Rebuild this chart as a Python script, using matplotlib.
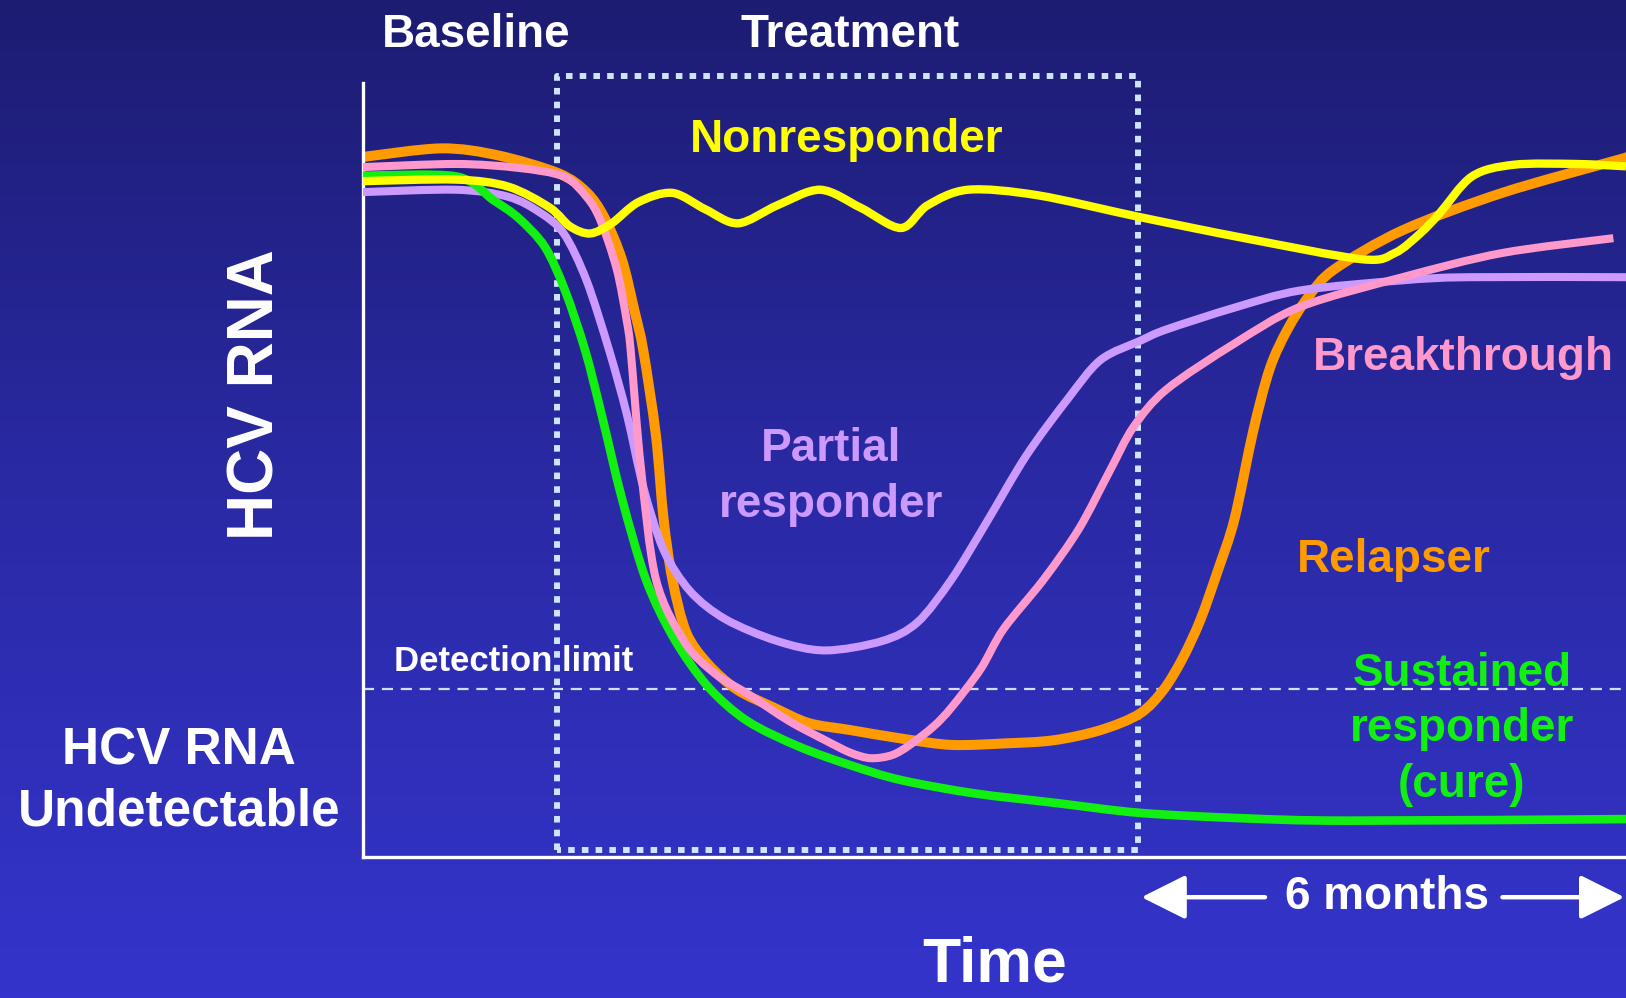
import numpy as np
import matplotlib.pyplot as plt
from matplotlib.colors import LinearSegmentedColormap
from matplotlib.path import Path
from matplotlib.patches import PathPatch, FancyArrowPatch

plt.rcParams['font.family'] = ['Liberation Sans', 'DejaVu Sans']
plt.rcParams['font.weight'] = 'bold'

# curves: time (0-100) and HCV RNA level (0-100)
yellow_t = [0, 7.4, 11.5, 14.8, 16.4, 18.0, 19.7, 21.8, 24.5, 27.1, 29.7, 32.8, 36.2, 39.4, 42.6, 44.7,
            47.9, 53.4, 61.5, 69.8, 79.1, 81.7, 83.7, 85.2, 87.8, 91.1, 96.1, 100]
yellow_v = [86.5, 86.7, 85.8, 83.1, 80.7, 79.8, 81.1, 83.8, 85.0, 82.9, 81.1, 83.4, 85.4, 83.1, 80.5, 83.4,
            85.4, 84.7, 81.9, 79.2, 76.5, 77.3, 79.8, 82.3, 87.1, 88.6, 88.7, 88.4]

orange_t = [0, 6.2, 10.7, 15.5, 17.7, 19.1, 20.5, 21.5, 22.2, 23.2, 23.8, 24.5, 25.6, 27.3, 29.6, 32.5,
            35.3, 38.6, 42.7, 46.6, 50.9, 54.7, 58.4, 61.5, 63.4, 64.9, 66.3, 67.7, 69.0, 70.5, 71.8,
            73.2, 74.9, 76.9, 82.3, 90.2, 99.3, 100]
orange_v = [89.6, 90.7, 89.8, 87.5, 85.1, 81.9, 76.5, 69.9, 64.8, 53.9, 43.3, 35.5, 28.7, 24.7, 21.4, 19.1,
            17.1, 16.2, 15.1, 14.3, 14.5, 14.9, 16.2, 18.3, 21.4, 25.4, 30.3, 36.7, 43.2, 54.6, 62.5,
            67.5, 71.8, 75.2, 80.2, 85.0, 89.2, 89.5]

pink_t = [0, 7.4, 12.3, 15.9, 17.7, 18.8, 20.1, 20.9, 21.2, 22.0, 23.2, 25.5, 27.9, 30.5, 33.7, 36.6,
          38.6, 40.2, 41.9, 43.3, 45.2, 46.6, 48.9, 50.7, 53.9, 56.7, 59.1, 61.0, 63.6, 69.0, 74.2,
          82.3, 90.2, 99.0]
pink_v = [88.3, 88.7, 88.2, 87.1, 84.5, 81.5, 75.2, 68.5, 64.8, 49.9, 35.5, 27.4, 23.4, 20.8, 17.4, 14.9,
          13.3, 12.6, 13.0, 14.3, 16.7, 19.1, 24.0, 29.1, 35.5, 42.0, 49.3, 55.0, 59.8, 65.7, 70.4,
          74.2, 77.3, 79.2]

lavender_t = [0, 7.4, 11.5, 14.0, 15.9, 17.7, 19.5, 20.9, 22.2, 23.8, 25.9, 28.7, 32.8, 36.6, 41.1, 43.9,
              46.6, 49.3, 52.5, 55.8, 58.4, 61.6, 63.6, 69.0, 74.2, 82.3, 87.5, 100]
lavender_v = [85.1, 85.4, 84.5, 82.5, 79.8, 73.8, 64.8, 56.6, 47.3, 39.3, 34.0, 30.4, 27.6, 26.4, 27.6, 30.0,
              35.5, 42.6, 51.3, 58.6, 63.6, 66.1, 67.5, 70.3, 72.5, 73.8, 74.2, 74.2]

green_t = [0, 7.4, 10.3, 12.3, 14.4, 16.0, 17.6, 18.9, 20.5, 22.4, 24.6, 27.3, 30.4, 34.5, 38.6, 42.6,
           48.4, 54.7, 61.5, 69.8, 78.0, 100]
green_v = [87.2, 87.1, 84.1, 81.8, 78.1, 72.5, 64.8, 56.6, 45.9, 35.5, 28.0, 21.8, 17.4, 14.1, 11.7, 9.8,
           8.1, 6.9, 5.6, 4.9, 4.6, 4.8]

detection_limit = 21.5
treatment_start, treatment_end = 15.35, 61.4


def smooth_path(t, v):
    # bezier path through the read points (catmull-rom style handles)
    p = np.column_stack([t, v]).astype(float)
    verts = [p[0]]
    codes = [Path.MOVETO]
    for i in range(len(p) - 1):
        p0 = p[i - 1] if i > 0 else p[i]
        p3 = p[i + 2] if i + 2 < len(p) else p[i + 1]
        c1 = p[i] + (p[i + 1] - p0) / 6.5
        c2 = p[i + 1] - (p3 - p[i]) / 6.5
        verts += [c1, c2, p[i + 1]]
        codes += [Path.CURVE4] * 3
    return Path(verts, codes)


fig = plt.figure(figsize=(16.26, 9.98), dpi=100)

# background gradient
bg = fig.add_axes([0, 0, 1, 1], zorder=-10)
grad = np.linspace(0, 1, 256).reshape(-1, 1)
cmap_bg = LinearSegmentedColormap.from_list('bg', ['#1d1c72', '#2a2aa6', '#3434cc'])
bg.imshow(grad, aspect='auto', cmap=cmap_bg, extent=[0, 1, 0, 1], origin='upper')
bg.axis('off')

ax = fig.add_axes([0.2232, 0.1417, 0.7768, 0.7824])
ax.patch.set_alpha(0)
ax.set_xlim(0, 100)
ax.set_ylim(0, 100)
ax.set_xticks([])
ax.set_yticks([])
for s in ['top', 'right']:
    ax.spines[s].set_visible(False)
for s in ['left', 'bottom']:
    ax.spines[s].set_color('white')
    ax.spines[s].set_linewidth(2.4)
ax.spines['left'].set_bounds(0, 99.1)

# treatment box (dotted)
box_x = [treatment_start, treatment_start, treatment_end, treatment_end, treatment_start]
box_y = [0.8, 100, 100, 0.8, 0.8]
ax.plot(box_x, box_y, color='#cde4fb', lw=4.3, linestyle=(0, (1.1, 1.2)), solid_capstyle='butt',
        dash_capstyle='butt', clip_on=False, zorder=1)

# detection limit
ax.plot([0, 100], [detection_limit, detection_limit], color='#d5dcf5', lw=1.6,
        linestyle=(0, (5, 3.5)), clip_on=False, zorder=1)

curves = [
    (orange_t, orange_v, '#ff9a00', 7.2, 2),
    (lavender_t, lavender_v, '#cc99ff', 5.8, 3),
    (green_t, green_v, '#11f011', 6.2, 4),
    (pink_t, pink_v, '#ff99cc', 5.8, 5),
    (yellow_t, yellow_v, '#ffff00', 6.0, 6),
]
for t, v, c, lw, z in curves:
    ax.add_patch(PathPatch(smooth_path(t, v), fill=False, edgecolor=c, lw=lw, zorder=z,
                           capstyle='butt', joinstyle='round', clip_on=False))

# labels inside the plot
ax.text(38.3, 91.8, 'Nonresponder', color='#ffff00', fontsize=33, ha='center', va='center')
ax.text(37.1, 48.6, 'Partial\nresponder', color='#cc99ff', fontsize=33, ha='center', va='center',
        linespacing=1.37)
ax.text(87.1, 63.9, 'Breakthrough', color='#ff99cc', fontsize=33, ha='center', va='center')
ax.text(81.6, 38.0, 'Relapser', color='#ff9a00', fontsize=33, ha='center', va='center')
ax.text(87.0, 16.3, 'Sustained\nresponder\n(cure)', color='#11f011', fontsize=33, ha='center',
        va='center', linespacing=1.33)
ax.text(11.9, 25.0, 'Detection limit', color='white', fontsize=25, ha='center', va='center')

# texts outside the axes
fig.text(0.293, 0.965, 'Baseline', color='white', fontsize=33, ha='center', va='center')
fig.text(0.523, 0.965, 'Treatment', color='white', fontsize=33, ha='center', va='center')
fig.text(0.158, 0.605, 'HCV RNA', color='white', fontsize=46, ha='center', va='center', rotation=90)
fig.text(0.110, 0.217, 'HCV RNA\nUndetectable', color='white', fontsize=37,
         ha='center', va='center', linespacing=1.3)
fig.text(0.612, 0.004, 'Time', color='white', fontsize=45, ha='center', va='bottom')
fig.text(0.853, 0.101, '6 months', color='white', fontsize=33, ha='center', va='center')

arrow = dict(arrowstyle='-|>,head_length=1.1,head_width=0.55', color='white', lw=3.2,
             shrinkA=0, shrinkB=0, mutation_scale=25, transform=fig.transFigure)
fig.add_artist(FancyArrowPatch((0.778, 0.101), (0.702, 0.101), **arrow))
fig.add_artist(FancyArrowPatch((0.924, 0.101), (0.999, 0.101), **arrow))

fig.savefig('out.png', dpi=100)
